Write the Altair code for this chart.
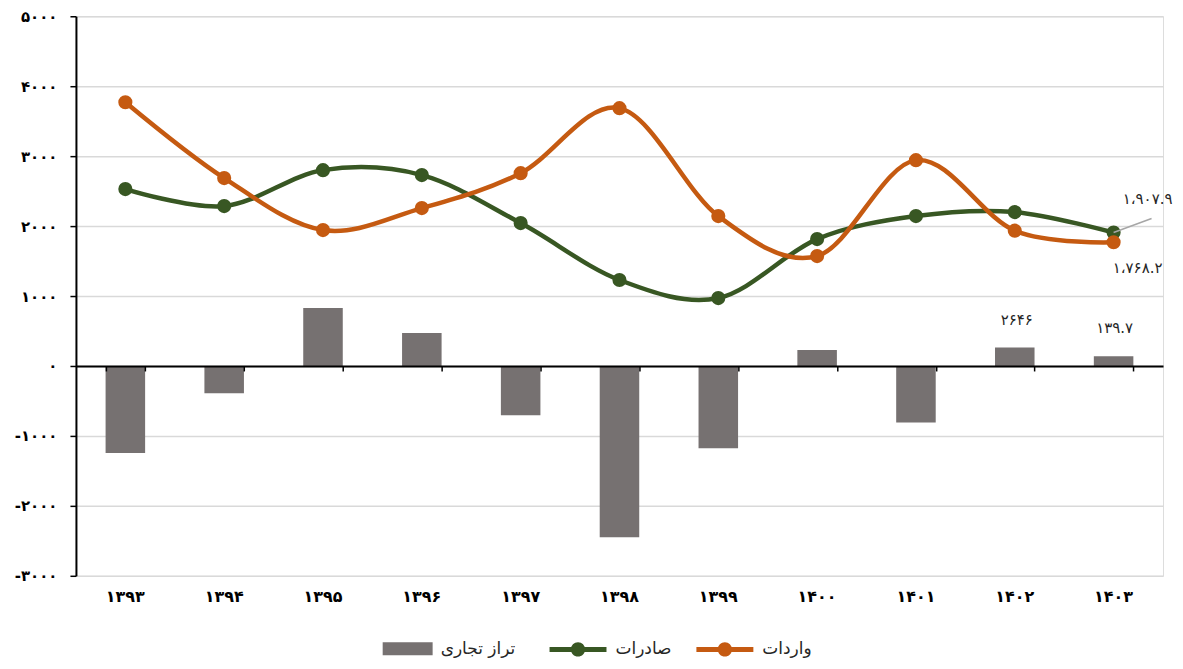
import altair as alt
import pandas as pd

years = ["۱۳۹۳", "۱۳۹۴", "۱۳۹۵", "۱۳۹۶", "۱۳۹۷", "۱۳۹۸", "۱۳۹۹", "۱۴۰۰", "۱۴۰۱", "۱۴۰۲", "۱۴۰۳"]
exports = [2529, 2286, 2800, 2729, 2043, 1229, 971, 1814, 2143, 2200, 1907.9]
imports = [3771, 2686, 1943, 2257, 2757, 3686, 2143, 1571, 2943, 1935, 1768.2]
balance = [-1245, -390, 830, 470, -705, -2450, -1175, 230, -810, 264.6, 139.7]

name_exports = "صادرات"
name_imports = "واردات"
name_balance = "تراز تجاری"

y_ticks = [-3000, -2000, -1000, 0, 1000, 2000, 3000, 4000, 5000]

label_years = ["۱۴۰۳", "۱۴۰۳", "۱۴۰۲", "۱۴۰۳"]
label_values = [1907.9, 1768.2, 264.6, 139.7]
label_texts = ["۱،۹۰۷.۹", "۱،۷۶۸.۲", "۲۶۴۶", "۱۳۹.۷"]

GREEN = "#385723"
ORANGE = "#c55a11"
GRAY = "#767171"
FONT = "DejaVu Sans"

W, H = 1088, 560

line_df = pd.DataFrame({
    "year": years * 2,
    "value": exports + imports,
    "series": [name_exports] * len(years) + [name_imports] * len(years),
})
bar_df = pd.DataFrame({"year": years, "value": balance, "series": [name_balance] * len(years)})
lab_df = pd.DataFrame({"year": label_years, "value": label_values, "text": label_texts,
                       "idx": list(range(len(label_texts)))})

# Persian digits for y labels
expr = "toString(datum.value)"
for d, p in zip("0123456789", "۰۱۲۳۴۵۶۷۸۹"):
    expr = f"replace({expr}, /{d}/g, '{p}')"

yscale = alt.Scale(domain=[-3000, 5000], nice=False, zero=False)
xscale = alt.Scale(domain=years, paddingInner=0.6, paddingOuter=0.3)

y_axis = alt.Axis(values=y_ticks, labelExpr=expr, title=None, grid=True, orient="left",
                  gridColor="#d9d9d9", gridWidth=1.5, domainColor="black",
                  domainWidth=2, tickColor="black", tickSize=6, tickWidth=1.5,
                  labelFont=FONT, labelFontWeight="bold", labelFontSize=15,
                  labelColor="black", labelPadding=13)

x_label_axis = alt.Axis(title=None, orient="bottom", domain=False, ticks=False, grid=False,
                        labelAngle=0, labelFont=FONT, labelFontWeight="bold", labelFontSize=16,
                        labelColor="black", labelPadding=13)

x_zero_axis = alt.Axis(title=None, orient="bottom", labels=False, grid=False, domain=True,
                       domainColor="black", domainWidth=2, ticks=True, tickColor="black",
                       tickSize=5, tickWidth=1.5, tickBand="extent", offset=-(H * 3 / 8),
                       zindex=1)

bar_legend = alt.Legend(orient="none", legendX=307, legendY=608, title=None,
                        symbolType="M-1,-0.26H1V0.26H-1Z", symbolSize=2500,
                        symbolStrokeWidth=0, labelFont=FONT, labelFontSize=17,
                        labelColor="#262626", labelOffset=8, padding=0, labelLimit=300)

line_symbol = ("M-1,-0.085H1V0.085H-1Z "
               "M0.25,0A0.25,0.25,0,1,1,-0.25,0A0.25,0.25,0,1,1,0.25,0Z")
line_legend = alt.Legend(orient="none", legendX=474, legendY=605, title=None,
                         direction="horizontal", symbolType=line_symbol, symbolSize=3249,
                         symbolStrokeWidth=0, labelFont=FONT, labelFontSize=17,
                         labelColor="#262626", labelOffset=9, columnPadding=24, padding=0,
                         labelLimit=300)

series_scale = alt.Scale(domain=[name_exports, name_imports], range=[GREEN, ORANGE])


def X(axis=None):
    return alt.X("year:N", sort=years, scale=xscale, axis=axis)


def Y():
    return alt.Y("value:Q", scale=yscale, axis=y_axis)


bars = alt.Chart(bar_df).mark_bar().encode(
    x=X(x_label_axis),
    y=Y(),
    fill=alt.Fill("series:N", scale=alt.Scale(domain=[name_balance], range=[GRAY]),
                  legend=bar_legend),
)

line_layers = []
for i, (name, col) in enumerate([(name_exports, GREEN), (name_imports, ORANGE)]):
    line_layers.append(
        alt.Chart(line_df).transform_filter(alt.datum.series == name).mark_line(
            interpolate="cardinal", strokeWidth=4.5, color=col
        ).encode(x=X(x_zero_axis if i == 0 else None), y=Y())
    )

points = alt.Chart(line_df).mark_point(filled=True, size=200, opacity=1).encode(
    x=X(),
    y=Y(),
    color=alt.Color("series:N", scale=series_scale, legend=line_legend),
)

leader = alt.Chart(lab_df).transform_filter("datum.idx == 0").mark_rule(
    color="#a6a6a6", strokeWidth=1.5, x2Offset=38, y2Offset=-14
).encode(
    x=X(),
    x2="year:N",
    y=Y(),
    y2="value:Q",
)

offsets = [(34, -34), (24, 26), (2, -27), (1, -28)]
texts = []
for i, (dx, dy) in enumerate(offsets):
    texts.append(
        alt.Chart(lab_df).transform_filter(f"datum.idx == {i}").mark_text(
            dx=dx, dy=dy, font=FONT, fontSize=15, color="#262626"
        ).encode(x=X(), y=Y(), text="text:N")
    )

chart = alt.layer(bars, *line_layers, points, leader, *texts).resolve_axis(
    x="independent"
).properties(
    width=W, height=H,
    autosize=alt.AutoSizeParams(type="none"),
    padding={"left": 68, "top": 8, "right": 12, "bottom": 82},
).configure_view(fill="#f2f2f2", strokeWidth=0).configure(background="white")

chart.save("out.html", embed_options={"renderer": "svg", "actions": False})
